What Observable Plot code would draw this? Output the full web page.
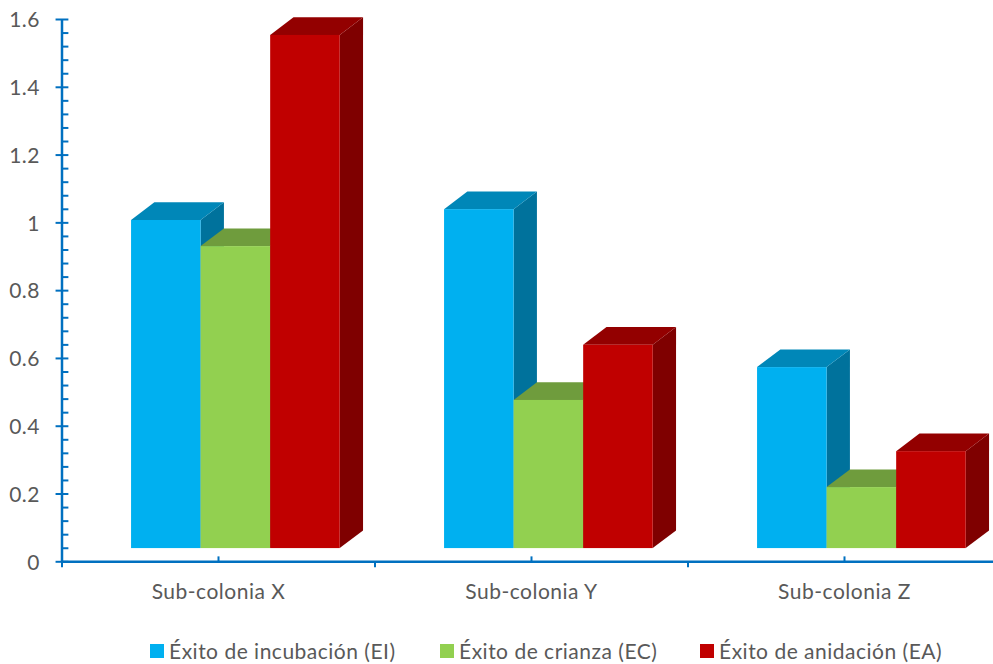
<!DOCTYPE html>
<html lang="es">
<head>
<meta charset="utf-8">
<script src="https://cdn.jsdelivr.net/npm/d3@7"></script>
<script src="https://cdn.jsdelivr.net/npm/@observablehq/plot@0.6"></script>
<style>
  html, body { margin: 0; padding: 0; background: #fff; overflow: hidden; }
  #chart svg { display: block; }
  #legend { position: relative; height: 34px; font: 21px Lato, sans-serif; letter-spacing: 0.5px; color: #595959; }
  #legend div { position: absolute; top: 8px; display: flex; align-items: center; line-height: 26px; white-space: nowrap; }
  #legend i { display: block; width: 14px; height: 14px; margin-right: 5px; }
</style>
</head>
<body>
<div id="chart"></div>
<div id="legend"></div>
<script>
// Breeding success per sub-colony
const colonies = ["Sub-colonia X", "Sub-colonia Y", "Sub-colonia Z"];
const seriesNames = ["Éxito de incubación (EI)", "Éxito de crianza (EC)", "Éxito de anidación (EA)"];
const hatching = [0.968, 1.0, 0.534];
const rearing = [0.891, 0.437, 0.18];
const nesting = [1.514, 0.6, 0.286];
const seriesValues = [hatching, rearing, nesting];

const yMajor = [0, 0.2, 0.4, 0.6, 0.8, 1, 1.2, 1.4, 1.6];
const yMinorTicks = d3.range(0, 41).filter(i => i % 5 !== 0).map(i => i * 0.04);

const frontColors = ["#00B0F0", "#92D050", "#C00000"];
const topColors = ["#0087B8", "#6F9C3D", "#930000"];
const sideColors = ["#00729C", "#5F8535", "#7F0000"];
const axisColor = "#0070C0";
const textColor = "#595959";

// Extrusion of the boxes, in scale units (one x unit is one category)
const barWidth = 1 / 4.5;
const barStart = 1 / 4.5;
const depthX = 0.0745;
const depthY = 0.052;
const floor = 0.039;   // the boxes stand slightly in front of the axis plane
const tickX = 0.022;   // inner tick length, x units

const xMax = (993 - 61.5) / 313;

// One box: side face, top face, front face, painted back to front
function box(group, s) {
  const v = seriesValues[s][group];
  const x1 = group + barStart + s * barWidth;
  const x2 = x1 + barWidth;
  const y1 = floor;
  const y2 = floor + v;
  return [
    Plot.areaY([[x2, y1, y2], [x2 + depthX, y1 + depthY, y2 + depthY]], {
      x: d => d[0], y1: d => d[1], y2: d => d[2], fill: sideColors[s]
    }),
    Plot.areaX([[x1, x2, y2], [x1 + depthX, x2 + depthX, y2 + depthY]], {
      x1: d => d[0], x2: d => d[1], y: d => d[2], fill: topColors[s]
    }),
    Plot.rect([{x1, x2, y1, y2}], {
      x1: "x1", x2: "x2", y1: "y1", y2: "y2", fill: frontColors[s]
    })
  ];
}

const boxes = colonies.flatMap((_, g) => seriesNames.flatMap((_, s) => box(g, s)));

const chart = Plot.plot({
  width: 993,
  height: 630,
  marginLeft: 61.5,
  marginRight: 0,
  marginTop: 19,
  marginBottom: 68.7,
  style: {background: "#fff", fontFamily: "Lato, sans-serif", overflow: "visible", letterSpacing: "0.5px"},
  x: {domain: [0, xMax]},
  y: {domain: [0, 1.6]},
  marks: [
    ...boxes,
    // value axis: labels, spine, major ticks crossing it, minor ticks on the inside
    Plot.axisY({
      ticks: yMajor, tickSize: 0, tickPadding: 22, label: null, dy: 1,
      tickFormat: d => String(d), fontSize: 21, fill: textColor
    }),
    Plot.ruleX([0], {y1: 0, y2: 1.6, stroke: axisColor, strokeWidth: 2.5}),
    Plot.ruleY(yMajor, {x1: -0.019, x2: tickX, stroke: axisColor, strokeWidth: 2}),
    Plot.ruleY(yMinorTicks, {x1: 0, x2: tickX, stroke: axisColor, strokeWidth: 2}),
    // category axis: baseline, separators below, centre marks above
    Plot.axisX({
      ticks: [0.5, 1.5, 2.5], tickSize: 0, tickPadding: 22.5, label: null,
      tickFormat: d => colonies[Math.floor(d)], fontSize: 21, fill: textColor
    }),
    Plot.ruleY([0], {x1: 0, x2: xMax, stroke: axisColor, strokeWidth: 2.5}),
    Plot.link([0, 1, 2], {
      x1: d => d, x2: d => d, y1: 0, y2: -0.016, stroke: axisColor, strokeWidth: 2
    }),
    Plot.link([0.5, 1.5, 2.5], {
      x1: d => d, x2: d => d, y1: 0, y2: 0.016, stroke: axisColor, strokeWidth: 2
    })
  ]
});
document.getElementById("chart").append(chart);

// Legend row under the plot
const legendX = [150, 440, 700];
const legend = document.getElementById("legend");
seriesNames.forEach((name, i) => {
  const item = document.createElement("div");
  item.style.left = legendX[i] + "px";
  const swatch = document.createElement("i");
  swatch.style.background = frontColors[i];
  item.append(swatch, name);
  legend.append(item);
});
</script>
</body>
</html>
